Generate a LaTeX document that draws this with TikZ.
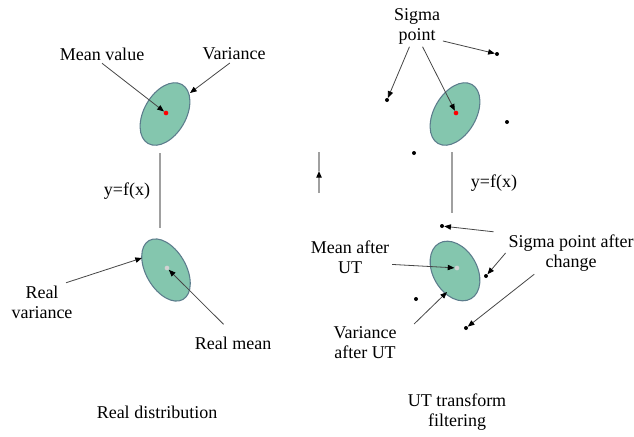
\documentclass[tikz,border=0pt]{standalone}
\usepackage{fontspec}
\setmainfont{LiberationSerif}[Extension=.ttf, UprightFont=*-Regular, BoldFont=*-Bold, ItalicFont=*-Italic]
\usepackage{tikz}
\usetikzlibrary{arrows.meta,calc}
\definecolor{BlobGreen}{RGB}{132,198,174}
\definecolor{BlobEdge}{RGB}{92,124,140}
\definecolor{LineGray}{RGB}{70,70,70}
\definecolor{AxisGray}{RGB}{160,160,160}

\tikzset{
	lbl/.style={font=\rmfamily\fontsize{13.5}{15}\selectfont, align=center, inner sep=2pt},
	blob/.style={fill=BlobGreen, draw=BlobEdge, line width=0.8pt},
	pointer/.style={draw=LineGray, line width=0.6pt, -{Triangle[length=5pt,width=4pt,color=black]}},
	dot/.style={circle, fill=black, inner sep=0pt, minimum size=3pt},
	meandot/.style={circle, fill=red, inner sep=0pt, minimum size=3.5pt},
	truedot/.style={circle, fill=gray!35, inner sep=0pt, minimum size=3.5pt},
	fline/.style={draw=AxisGray, line width=1pt}
}

\begin{document}
\begin{tikzpicture}[x=0.75pt, y=-0.75pt]
		\useasboundingbox (0,0) rectangle (634,436);
		% real distribution
		\draw[blob, rotate around={60:(165,114)}] (165,114) ellipse [x radius=34, y radius=21];
		\draw[blob, rotate around={-60:(166,270)}] (166,270) ellipse [x radius=34, y radius=20];
		\node[meandot] (m1) at (166,113) {};
		\node[truedot] (m2) at (167,268) {};
		\coordinate (v1) at (190,93);
		\coordinate (v2) at (142,258);
		\coordinate (f1a) at (160,153);
		\coordinate (f1b) at (160,228);
		\node[lbl] (meanval) at (102,54) {Mean value};
		\node[lbl] (variance) at (234,54) {Variance};
		\node[lbl] (realvar) at (42,302) {Real\\variance};
		\node[lbl] (realmean) at (233,343) {Real mean};
		\node[lbl] (fx1) at (127,191) {y=f(x)};
		\node[lbl] (title1) at (157,412) {Real distribution};
		\draw[pointer] (meanval.south) -- (m1);
		\draw[pointer] (variance.-115) -- (v1);
		\draw[pointer] ([xshift=-7pt]realvar.north east) -- (v2);
		\draw[pointer, shorten <=10pt] (realmean.north) -- (m2);
		\draw[fline] (f1a) -- (f1b);
		% UT transform
		\draw[blob, rotate around={60:(455,114)}] (455,114) ellipse [x radius=34, y radius=21];
		\draw[blob, rotate around={-60:(455,271)}] (455,271) ellipse [x radius=32, y radius=22];
		\node[meandot] (m3) at (456,113) {};
		\node[truedot] (m4) at (457,268) {};
		\node[dot] (s1) at (387,100) {};
		\node[dot] (s2) at (497,54) {};
		\node[dot] (s3) at (507,122) {};
		\node[dot] (s4) at (414,153) {};
		\node[dot] (t1) at (442,226) {};
		\node[dot] (t2) at (486,276) {};
		\node[dot] (t3) at (466,328) {};
		\node[dot] (t4) at (416,299) {};
		\coordinate (v4) at (447,292);
		\coordinate (f2a) at (452,152);
		\coordinate (f2b) at (452,213);
		\coordinate (ua) at (319,193);
		\coordinate (ub) at (319,171);
		\coordinate (uc) at (319,152);
		\node[lbl] (sigmalbl) at (417,26) {Sigma\\point};
		\node[lbl] (meanut) at (350,257) {Mean after\\UT};
		\node[lbl] (sigmachg) at (571,253) {Sigma point after\\change};
		\node[lbl] (varut) at (365,343) {Variance\\after UT};
		\node[lbl] (fx2) at (494,183) {y=f(x)};
		\node[lbl] (title2) at (457,412) {UT transform\\filtering};
		\draw[pointer] (sigmalbl.-110) -- (s1);
		\draw[pointer] (sigmalbl.-75) -- (m3);
		\draw[pointer] (sigmalbl.-30) -- (s2);
		\draw[pointer] (meanut.-10) -- (m4);
		\draw[pointer] ([xshift=-9pt]sigmachg.north west) -- (t1);
		\draw[pointer] (sigmachg.west) -- (t2);
		\draw[pointer] (sigmachg.-150) -- (t3);
		\draw[pointer] ([xshift=11pt]varut.north east) -- (v4);
		\draw[fline] (f2a) -- (f2b);
		\draw[fline, -{Triangle[length=5pt,width=4pt,color=black]}] (ua) -- (ub);
		\draw[fline] (ub) -- (uc);
	\end{tikzpicture}
\end{document}
